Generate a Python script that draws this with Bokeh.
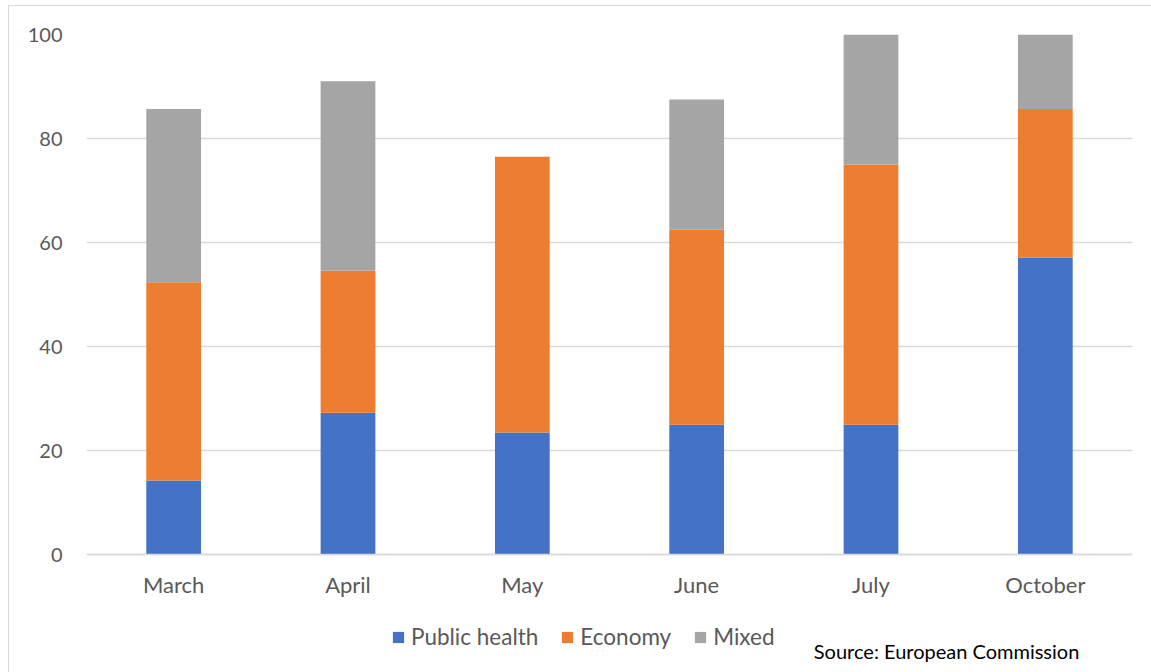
from bokeh.plotting import figure
from bokeh.models import (ColumnDataSource, FactorRange, Range1d, FixedTicker,
                          Legend, LegendItem, Label)
from bokeh.embed import file_html
from bokeh.resources import INLINE

# Share of measures by motivation, per month (stacked to the month's total)
months = ["March", "April", "May", "June", "July", "October"]
public_health = [14.3, 27.3, 23.5, 25.0, 25.0, 57.1]
economy = [38.1, 27.3, 53.0, 37.5, 50.0, 28.6]
mixed = [33.3, 36.4, 0.0, 25.0, 25.0, 14.3]

series = ["Public health", "Economy", "Mixed"]
colors = ["#4472C4", "#ED7D31", "#A5A5A5"]
y_ticks = [0, 20, 40, 60, 80, 100]

FONT = "Lato"
TEXT = "#595959"
GRID = "#D9D9D9"

source = ColumnDataSource(dict(month=months, **{
    "Public health": public_health,
    "Economy": economy,
    "Mixed": mixed,
}))

# The frame runs down to the bottom edge so that the legend and the source
# note (drawn below the zero line) are not clipped; the x axis sits at y=0.
p = figure(
    x_range=FactorRange(*months, range_padding=0),
    y_range=Range1d(-22.6, 100),
    frame_width=1046, frame_height=638,
    min_border_left=77, min_border_right=19,
    min_border_top=28, min_border_bottom=0,
    output_backend="svg", toolbar_location=None,
    background_fill_color="white", border_fill_color="white",
)
p.margin = (5, 0, 0, 8)
p.styles = {"border-left": "1px solid #D9D9D9", "border-top": "1px solid #D9D9D9"}
p.outline_line_color = None

renderers = p.vbar_stack(series, x="month", width=0.314, color=colors,
                         source=source, line_color=None)

# axes
p.yaxis.ticker = FixedTicker(ticks=y_ticks)
p.yaxis.axis_line_color = None
p.yaxis.major_tick_line_color = None
p.yaxis.minor_tick_line_color = None
p.yaxis.major_label_text_font = FONT
p.yaxis.major_label_text_font_size = "20px"
p.yaxis.major_label_text_color = TEXT
p.yaxis.major_label_standoff = 18

p.xaxis.fixed_location = 0
p.xaxis.axis_line_color = GRID
p.xaxis.axis_line_width = 1.3
p.xaxis.major_tick_line_color = None
p.xaxis.minor_tick_line_color = None
p.xaxis.major_label_text_font = FONT
p.xaxis.major_label_text_font_size = "22px"
p.xaxis.major_label_text_color = TEXT
p.xaxis.major_label_standoff = 10

p.xgrid.grid_line_color = None
p.ygrid.grid_line_color = GRID
p.ygrid.grid_line_width = 1.3

legend = Legend(
    items=[LegendItem(label=s, renderers=[r]) for s, r in zip(series, renderers)],
    orientation="horizontal",
    location=(305, 22),
    glyph_width=14, glyph_height=14,
    label_text_font=FONT, label_text_font_size="22.5px", label_text_color=TEXT,
    label_standoff=6, spacing=22, padding=0, margin=0,
    border_line_color=None, background_fill_alpha=0,
)
p.add_layout(legend, "center")

p.add_layout(Label(
    x=4.172, y=-18.4, text="Source: European Commission",
    text_font=FONT, text_font_size="20px", text_color="black",
    text_align="left", text_baseline="middle",
))

open("out.html", "w").write(file_html(p, INLINE))
